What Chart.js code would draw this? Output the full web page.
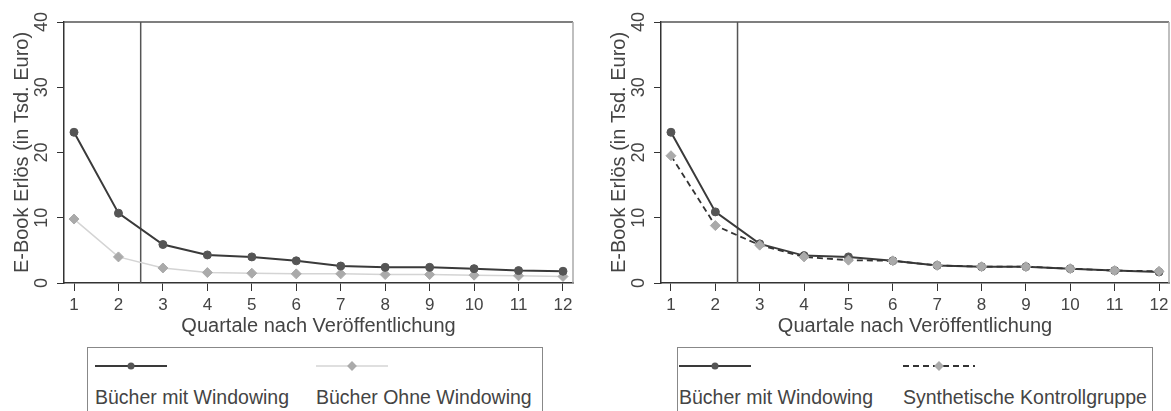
<!DOCTYPE html>
<html>
<head>
<meta charset="utf-8">
<script src="https://cdn.jsdelivr.net/npm/chart.js@4.4.1/dist/chart.umd.min.js"></script>
<style>
  body { margin: 0; background: #fff; width: 1171px; height: 411px; overflow: hidden; position: relative;
         font-family: "Liberation Sans", Arial, sans-serif; }
  .wrap { position: absolute; top: 0; height: 340px; }
  .legend { position: absolute; top: 347px; height: 70px; border: 1px solid #888; box-sizing: border-box; }
  .item { position: absolute; top: 0; }
  .item svg { position: absolute; top: 11px; left: 0; }
  .item span { position: absolute; top: 38px; left: 0; white-space: nowrap; font-size: 19.5px; line-height: 22px; color: #444; }
</style>
</head>
<body>
<div class="wrap" style="left:0;width:585px"><canvas id="links"></canvas></div>
<div class="wrap" style="left:597px;width:584px"><canvas id="rechts"></canvas></div>
<div class="legend" id="legend1" style="left:87px;width:456px"></div>
<div class="legend" id="legend2" style="left:677px;width:476px"></div>
<script>
// Werte (Tsd. Euro je Quartal)
const quarters = [1, 2, 3, 4, 5, 6, 7, 8, 9, 10, 11, 12];
const mitWindowing = [23.1, 10.7, 5.9, 4.3, 4.0, 3.4, 2.6, 2.4, 2.4, 2.2, 1.9, 1.8];
const ohneWindowing = [9.8, 4.0, 2.3, 1.6, 1.5, 1.4, 1.4, 1.3, 1.3, 1.2, 1.1, 1.0];
const mitWindowing2 = [23.1, 10.9, 6.0, 4.2, 4.0, 3.4, 2.7, 2.5, 2.5, 2.2, 1.9, 1.7];
const kontrollgruppe = [19.5, 8.8, 5.8, 4.0, 3.5, 3.4, 2.7, 2.5, 2.5, 2.2, 1.9, 1.8];
const yTicks = [0, 10, 20, 30, 40];
const windowingStart = 2.5;

Chart.defaults.font.family = '"Liberation Sans", Arial, sans-serif';
Chart.defaults.color = '#444';

const toPoints = vals => quarters.map((q, i) => ({x: q, y: vals[i]}));

const darkStyle = {
  borderColor: '#3a3a3a', borderWidth: 2, pointStyle: 'circle', pointRadius: 4,
  pointBackgroundColor: '#555', pointBorderColor: '#555', pointBorderWidth: 1
};
const lightStyle = {
  borderColor: '#d4d4d4', borderWidth: 1.5, pointStyle: 'rectRot', pointRadius: 5,
  pointBackgroundColor: '#aaa', pointBorderColor: '#aaa', pointBorderWidth: 1
};
const dashStyle = {
  borderColor: '#333', borderWidth: 1.8, borderDash: [6, 4], pointStyle: 'rectRot', pointRadius: 5,
  pointBackgroundColor: '#aaa', pointBorderColor: '#aaa', pointBorderWidth: 1
};

const frameLines = {
  id: 'frameLines',
  beforeDatasetsDraw(chart) {
    const {ctx, chartArea: a, scales: {x}} = chart;
    ctx.save();
    ctx.lineWidth = 1.5;
    ctx.strokeStyle = '#555';
    ctx.beginPath(); ctx.moveTo(a.left, a.top); ctx.lineTo(a.right, a.top); ctx.stroke();
    ctx.strokeStyle = '#aaa';
    ctx.beginPath(); ctx.moveTo(a.right, a.top); ctx.lineTo(a.right, a.bottom); ctx.stroke();
    const vx = x.getPixelForValue(windowingStart);
    ctx.strokeStyle = '#555';
    ctx.beginPath(); ctx.moveTo(vx, a.top); ctx.lineTo(vx, a.bottom); ctx.stroke();
    ctx.restore();
  }
};

function makeScales() {
  return {
    x: {
      type: 'linear', min: 0.775, max: 12.225,
      afterBuildTicks: s => { s.ticks = quarters.map(v => ({value: v})); },
      afterFit: s => { s.height = 57; },
      grid: {drawOnChartArea: false, drawTicks: true, tickLength: 8, color: '#333', lineWidth: 1},
      border: {display: true, color: '#333', width: 1.5},
      ticks: {font: {size: 17}, padding: 4, autoSkip: false, maxRotation: 0},
      title: {display: true, text: 'Quartale nach Veröffentlichung', font: {size: 20}, padding: {top: 0, bottom: 2}}
    },
    y: {
      min: 0, max: 40,
      afterBuildTicks: s => { s.ticks = yTicks.map(v => ({value: v})); },
      afterFit: s => { s.width = 64; },
      grid: {drawOnChartArea: false, drawTicks: true, tickLength: 7, color: '#333', lineWidth: 1},
      border: {display: true, color: '#333', width: 1.5},
      ticks: {font: {size: 18}, minRotation: 90, maxRotation: 90, crossAlign: 'center', padding: 5},
      title: {display: true, text: 'E-Book Erlös (in Tsd. Euro)', font: {size: 20}, padding: {top: 10, bottom: 0}}
    }
  };
}

function makeChart(id, datasets, padRight) {
  return new Chart(document.getElementById(id), {
    type: 'line',
    data: {datasets},
    options: {
      responsive: true, maintainAspectRatio: false, animation: false,
      layout: {padding: {top: 22, right: padRight, left: 0, bottom: 0}},
      plugins: {legend: {display: false}, tooltip: {enabled: false}},
      scales: makeScales()
    },
    plugins: [frameLines]
  });
}

const links = makeChart('links', [
  {label: 'Bücher mit Windowing', data: toPoints(mitWindowing), ...darkStyle},
  {label: 'Bücher Ohne Windowing', data: toPoints(ohneWindowing), ...lightStyle}
], 12);

const rechts = makeChart('rechts', [
  {label: 'Synthetische Kontrollgruppe', data: toPoints(kontrollgruppe), ...dashStyle, order: 0},
  {label: 'Bücher mit Windowing', data: toPoints(mitWindowing2), ...darkStyle, order: 1}
], 12);

// Legende im Stata-Stil: Linie oben, Text darunter
function sample(ds) {
  const dash = ds.borderDash ? ds.borderDash.join(',') : 'none';
  let marker;
  if (ds.pointStyle === 'circle') {
    marker = `<circle cx="36" cy="7" r="3.5" fill="${ds.pointBackgroundColor}"/>`;
  } else {
    marker = `<rect x="32.5" y="3.5" width="7" height="7" fill="${ds.pointBackgroundColor}" transform="rotate(45 36 7)"/>`;
  }
  return `<svg width="72" height="14"><line x1="0" y1="7" x2="72" y2="7" stroke="${ds.borderColor}" stroke-width="${ds.borderWidth}" stroke-dasharray="${dash}"/>${marker}</svg>`;
}
function legend(el, items) {
  el.innerHTML = items.map(([ds, left]) =>
    `<div class="item" style="left:${left}px">${sample(ds)}<span>${ds.label}</span></div>`).join('');
}
legend(document.getElementById('legend1'), [[links.data.datasets[0], 7], [links.data.datasets[1], 228]]);
legend(document.getElementById('legend2'), [[rechts.data.datasets[1], 1], [rechts.data.datasets[0], 225]]);
</script>
</body>
</html>
